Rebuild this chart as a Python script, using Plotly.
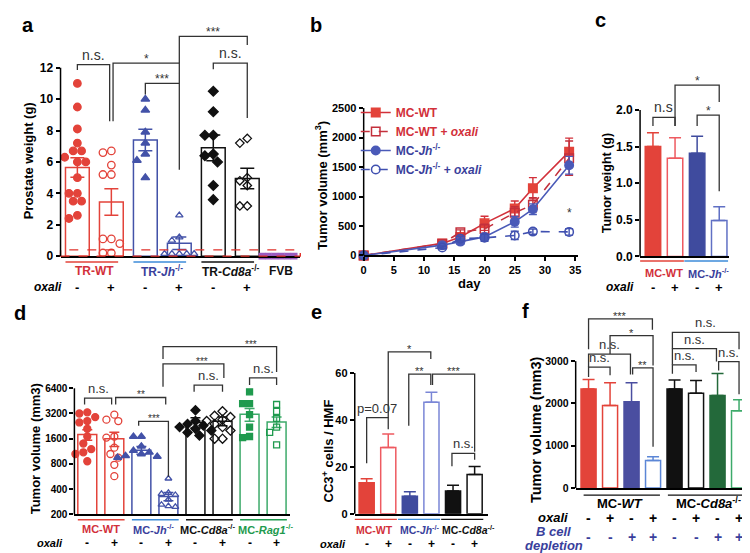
import math
import plotly.graph_objects as go

W, H = 750, 553
FONT = "Liberation Sans, Arial, Helvetica, sans-serif"

# ======================= DATA =======================
# ---- a : prostate weight (g) ----
a_mean = [5.65, 3.45, 7.40, 0.82, 6.90, 4.95, 0.04]
a_sem = [0.62, 0.85, 0.68, 0.40, 0.82, 0.65, 0.0]
a_wt = [11.0, 9.5, 8.1, 7.2, 6.7, 6.7, 6.3, 6.0, 6.0, 5.0, 4.0, 4.0, 3.5, 3.5, 2.6, 2.4]
a_wt_ox = [6.7, 6.6, 5.8, 5.2, 5.2, 1.1, 1.1, 0.8, 0.2, 0.2]
a_jh = [10.0, 9.3, 7.9, 7.2, 6.5, 6.1, 5.0]
a_jh_ox = [2.6, 1.2, 1.0, 0.15, 0.15, 0.15, 0.15, 0.15]
a_cd8 = [10.5, 9.2, 7.7, 7.7, 6.5, 6.4, 6.0, 4.5, 3.6]
a_cd8_ox = [7.5, 7.2, 5.0, 4.8, 4.5, 3.2, 3.2]
a_fvb = [0.0, 0.0, 0.0, 0.0, 0.0, 0.0]
a_groups = ["TR-WT", "TR-<i>Jh</i><sup>-/-</sup>", "TR-<i>Cd8a</i><sup>-/-</sup>", "FVB"]
a_oxali = ["-", "+", "-", "+", "-", "+"]
a_yticks = [0, 2, 4, 6, 8, 10, 12]

# ---- b : tumour growth ----
b_day = [0, 13, 16, 20, 25, 28, 34]
b_wt = [0, 205, 315, 545, 795, 1140, 1760]
b_wt_e = [0, 35, 45, 120, 130, 180, 230]
b_wtox = [0, 200, 395, 450, 725, 860, 1650]
b_wtox_e = [0, 35, 40, 80, 100, 120, 290]
b_jh = [0, 175, 235, 315, 570, 785, 1530]
b_jh_e = [0, 30, 45, 50, 90, 90, 150]
b_jhox = [0, 135, 285, 300, 340, 405, 400]
b_jhox_e = [0, 25, 40, 60, 70, 45, 55]
b_names = ["MC-WT", "MC-WT + <i>oxali</i>", "MC-<i>Jh</i><sup>-/-</sup>",
           "MC-<i>Jh</i><sup>-/-</sup> + <i>oxali</i>"]
b_xticks = [0, 5, 10, 15, 20, 25, 30, 35]
b_yticks = [0, 500, 1000, 1500, 2000, 2500]

# ---- c : tumour weight (g) ----
c_mean = [1.50, 1.34, 1.41, 0.49]
c_sem = [0.19, 0.28, 0.23, 0.19]
c_groups = ["MC-WT", "MC-<i>Jh</i><sup>-/-</sup>"]
c_oxali = ["-", "+", "-", "+"]
c_yticks = [0.0, 0.5, 1.0, 1.5, 2.0]

# ---- d : tumour volume (mm3), log2 axis ----
d_mean = [1790, 1600, 1165, 327, 2500, 2590, 3130, 2540]
d_sem = [260, 310, 125, 37, 350, 310, 540, 360]
d_wt = [3300, 3200, 2900, 2600, 2500, 2100, 1700, 1400, 1200, 1100, 1050, 860]
d_wt_ox = [3100, 2700, 2600, 1700, 1650, 1250, 1050, 950, 780, 570]
d_jh = [1700, 1700, 1300, 1150, 1100, 1050, 1000, 980, 950]
d_jh_ox = [535, 360, 350, 340, 300, 260, 250, 245]
d_cd8 = [3500, 2600, 2400, 2300, 2200, 2100, 2000, 1900, 1750]
d_cd8_ox = [3400, 3000, 2900, 2700, 2600, 2400, 2200, 2000, 1600, 1600]
d_rag = [5800, 4200, 4200, 3100, 2200, 1700, 1650]
d_rag_ox = [4100, 3400, 2800, 2200, 1900, 1350]
d_groups = ["MC-WT", "MC-<i>Jh</i><sup>-/-</sup>", "MC-<i>Cd8a</i><sup>-/-</sup>",
            "MC-<i>Rag1</i><sup>-/-</sup>"]
d_oxali = ["-", "+", "-", "+", "-", "+", "-", "+"]
d_yticks = [200, 400, 800, 1600, 3200, 6400]

# ---- e : CC3+ cells / HMF ----
e_mean = [13.2, 28.2, 7.4, 47.5, 9.7, 16.7]
e_sem = [1.7, 5.8, 1.9, 4.3, 2.4, 3.4]
e_groups = ["MC-WT", "MC-<i>Jh</i><sup>-/-</sup>", "MC-<i>Cd8a</i><sup>-/-</sup>"]
e_oxali = ["-", "+", "-", "+", "-", "+"]
e_yticks = [0, 20, 40, 60]

# ---- f : tumour volume (mm3) ----
f_mean = [2340, 1950, 2040, 650, 2340, 2240, 2190, 1830]
f_sem = [225, 540, 450, 90, 215, 300, 520, 255]
f_groups = ["MC-<i>WT</i>", "MC-<i>Cd8a</i><sup>-/-</sup>"]
f_oxali = ["-", "+", "-", "+", "-", "+", "-", "+"]
f_bcell = ["-", "-", "+", "+", "-", "-", "+", "+"]
f_yticks = [0, 1000, 2000, 3000]

# ======================= STYLE / GEOMETRY =======================
RED = "#E3433A"; RED_T = "#D2303A"
BLUE = "#4352A8"; BLUE_F = "#3F4B9E"; BLUE_T = "#3A3F9C"; BLUE_L = "#3D8BD8"
BLUE_O = "#6070C4"; BLUE_O2 = "#5B86D6"
GREEN = "#1F9A4E"; GREEN_D = "#23693A"; GREEN_O = "#3DAA6A"
PURPLE = "#9A5BC0"
BLACK = "#111111"
BR = "#333333"

G = {
    'a': dict(x0=67, xs=34.3, xd=(50, 292), v0=0, p0=248, ys=16.08, yd=(248, 10), log=False),
    'b': dict(x0=356, xs=6.1, xd=(356, 572), v0=0, p0=247.3, ys=151 / 2500, yd=(247.3, 96), log=False),
    'c': dict(x0=648, xs=22.3, xd=(635, 725), v0=0, p0=248.3, ys=75, yd=(248.3, 55), log=False),
    'd': dict(x0=77, xs=27.3, xd=(64, 282), v0=math.log10(200), p0=512.3, ys=85.7, yd=(512.3, 325), log=True),
    'e': dict(x0=359, xs=21.8, xd=(347, 481), v0=0, p0=511.7, ys=2.4, yd=(511.7, 335), log=False),
    'f': dict(x0=583, xs=21.7, xd=(570, 748), v0=0, p0=485.5, ys=130 / 3000, yd=(485.5, 300), log=False),
}


def refs(p):
    i = 'abcdef'.index(p) + 1
    return ('x' if i == 1 else f'x{i}', 'y' if i == 1 else f'y{i}')


def xpx(p, x):
    g = G[p]
    return g['x0'] + x * g['xs']


def ypx(p, v):
    g = G[p]
    t = math.log10(v) if g['log'] else v
    return g['p0'] - (t - g['v0']) * g['ys']


fig = go.Figure()
ann, shapes = [], []


def T(px, py, s, size, color='black', xa='center', ya='middle', angle=0):
    ann.append(dict(x=px / W, y=1 - py / H, xref='paper', yref='paper', text=s, showarrow=False,
                    font=dict(family=FONT, size=size, color=color), xanchor=xa, yanchor=ya,
                    textangle=angle))


def L(px0, py0, px1, py1, color, width=1.3, dash=None):
    d = dict(type='line', xref='paper', yref='paper', x0=px0 / W, y0=1 - py0 / H, x1=px1 / W,
             y1=1 - py1 / H, line=dict(color=color, width=width))
    if dash:
        d['line']['dash'] = dash
    shapes.append(d)


def swarm(p, vals, size):
    g = G[p]
    placed, offs = [], []
    cands = [0.0]
    for k in range(1, 8):
        cands += [-k * 0.5 * size, k * 0.5 * size]
    for v in vals:
        yp = ypx(p, v)
        chosen = cands[-1]
        for c in cands:
            if all((c - a) ** 2 + (yp - b) ** 2 >= (size * 0.95) ** 2 for a, b in placed):
                chosen = c
                break
        placed.append((chosen, yp))
        offs.append(chosen / g['xs'])
    return offs


def add_bar(p, x, mean, sem, fill, line, errc, sym=True, cap=5, width=0.7):
    xa, ya = refs(p)
    err = dict(type='data', array=[sem], color=errc, thickness=1.5, width=cap, visible=sem > 0)
    if not sym:
        err.update(symmetric=False, arrayminus=[0])
    fig.add_trace(go.Bar(x=[x], y=[mean], width=width,
                         marker=dict(color=fill, line=dict(color=line, width=1.5)),
                         error_y=err, xaxis=xa, yaxis=ya, showlegend=False, hoverinfo='skip'))


def add_pts(p, x, vals, symbol, color, size):
    xa, ya = refs(p)
    offs = swarm(p, vals, size + 1)
    fig.add_trace(go.Scatter(x=[x + o for o in offs], y=vals, mode='markers', cliponaxis=False,
                             marker=dict(symbol=symbol, size=size, color=color,
                                         line=dict(color=color, width=1.3)),
                             xaxis=xa, yaxis=ya, showlegend=False, hoverinfo='skip'))


def add_brackets(p, items, ns_size=14, star_size=12):
    xa, ya = refs(p)
    xs, ys = [], []
    for it in items:
        x1, x2, top, yl, yr, txt = it[:6]
        tx = it[6] if len(it) > 6 else (x1 + x2) / 2
        xs += [x1, x1, x2, x2, None]
        ys += [yl, top, top, yr, None]
        star = txt.startswith('*')
        yv = math.log10(top) if G[p]['log'] else top
        ann.append(dict(x=tx, y=yv, xref=xa, yref=ya, text=txt, showarrow=False,
                        yanchor='bottom', yshift=-5 if star else 0,
                        font=dict(family=FONT, size=star_size if star else ns_size, color=BR)))
    fig.add_trace(go.Scatter(x=xs, y=ys, mode='lines', line=dict(color=BR, width=1.3),
                             xaxis=xa, yaxis=ya, showlegend=False, hoverinfo='skip'))


def group_row(p, groups, spans, lcolors, ucolors, line_py, label_py, size, padl, padr,
              shifts=None):
    shifts = shifts or [0] * len(groups)
    for (i, j), g, lc, uc, sh in zip(spans, groups, lcolors, ucolors, shifts):
        if uc:
            L(xpx(p, i - padl), line_py, xpx(p, j + padr), line_py, uc, 1.4)
        T((xpx(p, i) + xpx(p, j)) / 2 + sh, label_py, f"<b>{g}</b>", size, lc)


def sign_row(p, signs, py, size, label_right=None, label="<b><i>oxali</i></b>", color='black'):
    if label_right is not None:
        T(label_right, py, label, size, color, xa='right')
    for k, s in enumerate(signs):
        T(xpx(p, k), py, f"<b>{s}</b>", size + 1, color)


def yaxis_line(p, lo, hi):
    x = G[p]['xd'][0]
    L(x, ypx(p, lo), x, ypx(p, hi), 'black', 1.5)


# ======================= PANEL a =======================
a_fill = ['white'] * 6 + [PURPLE]
a_line = [RED, RED, BLUE, BLUE, BLACK, BLACK, PURPLE]
for k in range(7):
    add_bar('a', k, a_mean[k], a_sem[k], a_fill[k], a_line[k], a_line[k], cap=7)
add_pts('a', 0, a_wt, 'circle', RED, 7.5)
add_pts('a', 1, a_wt_ox, 'circle-open', RED, 7.5)
add_pts('a', 2, a_jh, 'triangle-up', BLUE, 7.5)
add_pts('a', 3, a_jh_ox, 'triangle-up-open', BLUE, 6.5)
add_pts('a', 4, a_cd8, 'diamond', BLACK, 7.5)
add_pts('a', 5, a_cd8_ox, 'diamond-open', BLACK, 6.5)
add_pts('a', 6, a_fvb, 'square', PURPLE, 5.5)
add_brackets('a', [
    (0, 0.95, 12.2, 11.85, 8.6, "n.s."),
    (1.05, 3, 12.3, 8.6, 5.5, "*"),
    (2, 3, 11.0, 10.3, 11.0, "***"),
    (3, 5, 14.0, 12.3, 13.45, "***"),
    (4, 5, 12.3, 11.9, 8.8, "n.s."),
], ns_size=14, star_size=12)
shapes.append(dict(type='rect', xref='paper', yref='paper', x0=50 / W, x1=292 / W,
                   y0=1 - ypx('a', 0) / H, y1=1 - ypx('a', 0.4) / H,
                   line=dict(color="#E0302A", width=1.4, dash='dash')))
group_row('a', a_groups, [(0, 1), (2, 3), (4, 5), (6, 6)], [RED_T, BLUE_T, BLACK, BLACK],
          [RED, BLUE_L, BLACK, None], 254, 263, 12, 0.35, 0.2)
sign_row('a', a_oxali, 280, 12, label_right=54)
yaxis_line('a', 0, 12)
T(18, 150, "<b>Prostate weight (g)</b>", 13, angle=-90)

# ======================= PANEL b =======================
xa, ya = refs('b')
b_series = [
    (b_wt, b_wt_e, "#D2303A", RED, 'square', 'solid'),
    (b_wtox, b_wtox_e, "#C4303C", "#C4303C", 'square-open', 'dash'),
    (b_jh, b_jh_e, "#4A5AB8", "#4A5AB8", 'circle', 'solid'),
    (b_jhox, b_jhox_e, "#4050B0", "#4050B0", 'circle-open', 'dash'),
]
b_tcol = [RED_T, RED_T, BLUE_T, BLUE_T]
for (ys_, es, lc, mc, sym, dash), nm, tc in zip(b_series, b_names, b_tcol):
    fig.add_trace(go.Scatter(
        x=b_day, y=ys_, mode='lines+markers', cliponaxis=False,
        name=f"<span style='color:{tc}'><b>{nm}</b></span>",
        line=dict(color=lc, width=1.6, dash=dash),
        marker=dict(symbol=sym, size=8.5, color=mc, line=dict(color=mc, width=1.5)),
        error_y=dict(type='data', array=es, color=lc, thickness=1.4, width=4),
        xaxis=xa, yaxis=ya, hoverinfo='skip'))
ann.append(dict(x=34, y=560, xref=xa, yref=ya, text="*", showarrow=False, yanchor='bottom',
                font=dict(family=FONT, size=12, color=BR)))
yaxis_line('b', 0, 2500)
T(313, 176, "<b>Tumor volume (mm<sup>3</sup>)</b>", 13, angle=-90)
T(463, 276, "<b>day</b>", 13)

# ======================= PANEL c =======================
c_fill = [RED, 'white', BLUE_F, 'white']
c_line = [RED, "#EE5A60", BLUE_F, BLUE_O]
for k in range(4):
    add_bar('c', k, c_mean[k], c_sem[k], c_fill[k], c_line[k], c_line[k], sym=False, cap=6)
add_brackets('c', [
    (0, 1, 1.90, 1.78, 1.78, "n.s"),
    (2, 3, 1.93, 1.78, 0.89, "*"),
    (1, 3, 2.34, 1.78, 2.11, "*"),
], ns_size=14, star_size=12)
group_row('c', c_groups, [(0, 1), (2, 3)], [RED_T, BLUE_T], [RED, BLUE_L], 253, 265, 11, 0.58, 0.4)
sign_row('c', c_oxali, 280, 12, label_right=631)
yaxis_line('c', 0, 2.0)
T(602, 173, "<b>Tumor weight (g)</b>", 12.5, angle=-90)

# ======================= PANEL d =======================
d_line = [RED, RED, BLUE, BLUE, BLACK, BLACK, GREEN_O, GREEN_O]
for k in range(8):
    add_bar('d', k, d_mean[k], d_sem[k], 'white', d_line[k], d_line[k], cap=5)
add_pts('d', 0, d_wt, 'circle', RED, 7)
add_pts('d', 1, d_wt_ox, 'circle-open', RED, 7)
add_pts('d', 2, d_jh, 'triangle-up', BLUE, 7)
add_pts('d', 3, d_jh_ox, 'triangle-up-open', BLUE, 6)
add_pts('d', 4, d_cd8, 'diamond', BLACK, 7)
add_pts('d', 5, d_cd8_ox, 'diamond-open', BLACK, 7)
add_pts('d', 6, d_rag, 'square', GREEN, 6)
add_pts('d', 7, d_rag_ox, 'square-open', GREEN, 6)
add_brackets('d', [
    (-0.1, 0.9, 4890, 4090, 4090, "n.s."),
    (1.05, 2.9, 4970, 4090, 4090, "**"),
    (1.9, 3.0, 2570, 2280, 560, "***"),
    (2.8, 5.05, 12530, 6680, 8510, "***", 4.25),
    (2.8, 7.0, 20100, 14330, 9990, "***", 6.05),
    (3.95, 5.0, 6990, 5840, 5840, "n.s."),
    (6.0, 7.0, 8510, 6990, 6990, "n.s."),
], ns_size=13, star_size=10)
group_row('d', d_groups, [(0, 1), (2, 3), (4, 5), (6, 7)], [RED_T, BLUE_T, BLACK, GREEN],
          [RED, BLUE_L, BLACK, GREEN], 518, 527, 11, 0.35, 0.38, shifts=[0, -1, -2, 2])
sign_row('d', d_oxali, 542, 11, label_right=55)
yaxis_line('d', 200, 6400)
T(25, 445, "<b>Tumor volume (mm3)</b>", 13, angle=-90)

# ======================= PANEL e =======================
e_fill = [RED, 'white', BLUE_F, 'white', BLACK, 'white']
e_line = [RED, "#EE5A60", BLUE_F, "#7A86D6", BLACK, BLACK]
for k in range(6):
    add_bar('e', k, e_mean[k], e_sem[k], e_fill[k], e_line[k], e_line[k], sym=False, cap=6)
add_brackets('e', [
    (0, 1, 41, 21.5, 36, "p=0.07"),
    (1, 2.97, 69, 41, 66, "*"),
    (1.95, 2.97, 59.5, 37.5, 54.9, "**"),
    (3.05, 5, 59.5, 54.9, 26.4, "***"),
    (3.95, 5, 25.7, 20.2, 23, "n.s."),
], ns_size=13, star_size=11)
group_row('e', e_groups, [(0, 1), (2, 3), (4, 5)], [RED_T, BLUE_T, BLACK],
          [RED, BLUE_L, BLACK], 517.5, 528, 10.5, 0.55, 0.4, shifts=[-3, -1, 5])
sign_row('e', e_oxali, 543, 11, label_right=340)
yaxis_line('e', 0, 60)
T(320, 448, "<b>CC3<sup>+</sup> cells / HMF</b>", 13, angle=-90)

# ======================= PANEL f =======================
f_fill = [RED, 'white', "#4A4EA0", 'white', BLACK, 'white', GREEN_D, 'white']
f_line = [RED, RED, "#4A4EA0", BLUE_O2, BLACK, BLACK, GREEN_D, GREEN_O]
for k in range(8):
    add_bar('f', k, f_mean[k], f_sem[k], f_fill[k], f_line[k], f_line[k], sym=False, cap=6)
add_brackets('f', [
    (0, 1, 2857, 2626, 2666, "n.s."),
    (0, 1.95, 3166, 2857, 2682, "n.s."),
    (2.05, 3, 2843, 2682, 974, "**"),
    (1, 3, 3605, 3166, 2896, "*"),
    (0, 2.97, 3997, 3282, 3743, "***"),
    (3.9, 5, 2912, 2705, 2742, "n.s."),
    (3.9, 5.95, 3296, 2912, 2989, "n.s."),
    (6.05, 7, 2989, 2781, 2220, "n.s."),
    (3.9, 7, 3681, 3296, 3282, "n.s."),
], ns_size=13, star_size=11)
L(xpx('f', -0.23), 492.7, xpx('f', 3.32), 492.7, BLACK, 1.3)
L(xpx('f', 3.69), 492.7, xpx('f', 7.47), 492.7, BLACK, 1.3)
T(615, 501, f"<b>{f_groups[0]}</b>", 13)
T(704, 501, f"<b>{f_groups[1]}</b>", 13)
sign_row('f', f_oxali, 516, 13, label_right=564)
sign_row('f', f_bcell, 536, 13, color=BLUE_T)
T(548, 530, "<b><i>B cell</i></b>", 13, BLUE_T)
T(548, 544, "<b><i>depletion</i></b>", 13, BLUE_T)
yaxis_line('f', 0, 3000)
T(530, 426, "<b>Tumor volume (mm3)</b>", 14.5, angle=-90)

# ======================= PANEL LETTERS =======================
for s, x, y in [("a", 17, 11), ("b", 308, 11), ("c", 595, 6), ("d", 9, 306), ("e", 308, 305),
                ("f", 519, 304)]:
    T(x, y, f"<b>{s}</b>", 20)

# ======================= AXES =======================
tick_sizes = dict(a=12, b=11, c=12, d=10, e=11, f=10.5)
yticks = dict(a=a_yticks, b=b_yticks, c=c_yticks, d=d_yticks, e=e_yticks, f=f_yticks)
layout_axes = {}
for i, p in enumerate('abcdef', start=1):
    g = G[p]
    xr = [(g['xd'][0] - g['x0']) / g['xs'], (g['xd'][1] - g['x0']) / g['xs']]
    yr = [g['v0'] + (g['p0'] - g['yd'][0]) / g['ys'], g['v0'] + (g['p0'] - g['yd'][1]) / g['ys']]
    xk = 'xaxis' if i == 1 else f'xaxis{i}'
    yk = 'yaxis' if i == 1 else f'yaxis{i}'
    xa, ya = refs(p)
    tv = yticks[p]
    tt = [f"<b>{v:.1f}</b>" if p == 'c' else f"<b>{v}</b>" for v in tv]
    xax = dict(domain=[g['xd'][0] / W, g['xd'][1] / W], range=xr, anchor=ya, showgrid=False,
               zeroline=False, showline=True, linecolor='black', linewidth=1.5,
               showticklabels=False, ticks='', fixedrange=True)
    if p == 'b':
        xax.update(showticklabels=True, ticks='outside', ticklen=4, tickwidth=1.5,
                   tickcolor='black', tickvals=b_xticks,
                   ticktext=[f"<b>{v}</b>" for v in b_xticks],
                   tickfont=dict(family=FONT, size=11, color='black'))
    yax = dict(domain=[1 - g['yd'][0] / H, 1 - g['yd'][1] / H], range=yr, anchor=xa,
               type='log' if g['log'] else 'linear', showgrid=False, zeroline=False,
               showline=False, ticks='outside', ticklen=4, tickwidth=1.5, tickcolor='black',
               tickvals=tv, ticktext=tt,
               tickfont=dict(family=FONT, size=tick_sizes[p], color='black'), fixedrange=True)
    layout_axes[xk] = xax
    layout_axes[yk] = yax

fig.update_layout(
    width=W, height=H, margin=dict(l=0, r=0, t=0, b=0), autosize=False,
    paper_bgcolor='white', plot_bgcolor='rgba(0,0,0,0)', barmode='overlay',
    font=dict(family=FONT, color='black'),
    annotations=ann, shapes=shapes,
    legend=dict(x=348 / W, y=1 - 86 / H, xanchor='left', yanchor='top',
                font=dict(family=FONT, size=12), bgcolor='rgba(0,0,0,0)',
                tracegroupgap=0, itemwidth=30),
    **layout_axes,
)
fig.write_html("out.html")
